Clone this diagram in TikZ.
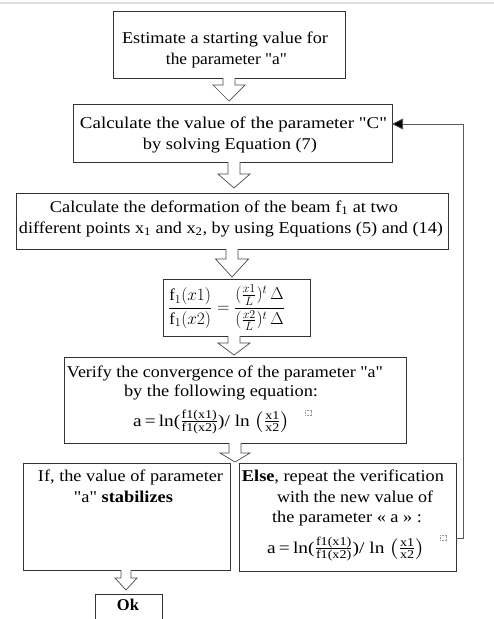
\documentclass[tikz,border=0pt]{standalone}
\usepackage{fontspec}
\setmainfont[Ligatures=TeXOff]{Liberation Serif}
\usepackage{amsmath}
\usepackage{graphicx}
\usetikzlibrary{calc,arrows.meta}
\tikzset{
  box/.style={draw=black!80, line width=0.8pt, fill=white, inner sep=0pt, outer sep=0pt},
  txt/.style={anchor=base, inner sep=0pt, font=\fontsize{16.5}{21.5}\selectfont},
  barrowstyle/.style={draw=black!70, line width=0.7pt, fill=white, line join=miter},
  fb/.style={draw=black!65, line width=0.8pt, -{Triangle[length=11pt,width=11pt,fill=black]}},
  placeholder/.style={draw=black!40, densely dotted, line width=0.5pt, minimum width=6pt, minimum height=5pt, inner sep=0pt}
}
\newcommand\fw[2]{\resizebox{#1pt}{\height}{#2}}
\newcommand\sm[1]{\text{\fontsize{12}{12}\selectfont #1}}
\newcommand\blockarrow[6]{% #1 start anchor, #2 tip coord, #3 shaft half, #4 head half, #5 head length, #6 name
  \coordinate (#6s) at (#2 |- #1);
  \draw[barrowstyle] ($(#6s)+(-#3,0)$) -- ($(#2)+(-#3,-#5)$) -- ($(#2)+(-#4,-#5)$) -- (#2)
    -- ($(#2)+(#4,-#5)$) -- ($(#2)+(#3,-#5)$) -- ($(#6s)+(#3,0)$);
}
\newcommand\fracform{a\,=\,ln($\frac{\sm{f1(x1)}}{\sm{f1(x2)}}$)/ ln $\left(\frac{\sm{x1}}{\sm{x2}}\right)$}
\begin{document}
\begin{tikzpicture}[x=1pt,y=-1pt]
\useasboundingbox (0,0) rectangle (494,619);
\fill[white] (0,0) rectangle (494,619);
\draw[black!12, line width=1.2pt] (0,3) -- (494,3);

% boxes
\node[box, minimum width=232pt, minimum height=67pt] (b1) at (229,44.5) {};
\node[box, minimum width=319pt, minimum height=58pt] (b2) at (232.5,133) {};
\node[box, minimum width=432pt, minimum height=56pt] (b3) at (232,221) {};
\node[box, minimum width=147pt, minimum height=57pt] (b4) at (236.5,307.5) {};
\node[box, minimum width=342pt, minimum height=86pt] (b5) at (235,400) {};
\node[box, minimum width=207pt, minimum height=107pt] (b6) at (126.5,516.5) {};
\node[box, minimum width=217pt, minimum height=108pt] (b7) at (347.5,517) {};
\node[box, minimum width=67pt, minimum height=36pt] (b8) at (128.5,612) {};

% texts
\node[txt] (t1a) at (225,43) {\fw{206}{Estimate a starting value for}};
\node[txt] (t1b) at (226.5,64) {\fw{121}{the parameter "a"}};
\node[txt] (t2a) at (233.5,128) {\fw{307}{Calculate the value of the parameter "C"}};
\node[txt] (t2b) at (230,149) {\fw{174}{by solving Equation (7)}};
\node[txt] (t3a) at (224,212) {\fw{348}{Calculate the deformation of the beam f\textsubscript{1} at two}};
\node[txt] (t3b) at (231,233) {\fw{424}{different points x\textsubscript{1} and x\textsubscript{2}, by using Equations (5) and (14)}};
\node[anchor=center, inner sep=0pt, font=\fontsize{16.5}{21.5}\selectfont] (t4) at (226.5,308)
  {$\dfrac{\mathrm{f}_1(x1)}{\mathrm{f}_1(x2)}=\dfrac{(\frac{x1}{L})^t\,\Delta}{(\frac{x2}{L})^t\,\Delta}$};
\node[txt] (t5a) at (225,377) {\fw{316}{Verify the convergence of the parameter "a"}};
\node[txt] (t5b) at (221,396) {\fw{194}{by the following equation:}};
\node[txt] (t5c) at (211.5,426) {\fw{157}{\fracform}};
\node[placeholder] (ph1) at (308,413) {};
\node[txt] (t6a) at (130.5,481) {\fw{185}{If, the value of parameter}};
\node[txt] (t6b) at (123.5,502) {\fw{99}{"a" \textbf{stabilizes}}};
\node[txt] (t7a) at (343,481) {\fw{202}{\textbf{Else}, repeat the verification}};
\node[txt] (t7b) at (355,502) {\fw{156}{with the new value of}};
\node[txt] (t7c) at (347,522) {\fw{150}{the parameter « a » :}};
\node[txt] (t7d) at (346,553) {\fw{158}{\fracform}};
\node[placeholder] (ph2) at (443,538) {};
\node[txt] (t8) at (128,610) {\textbf{Ok}};

% block arrows
\coordinate (a1t) at (229,101);
\coordinate (a2t) at (234,188);
\coordinate (a3t) at (232,277);
\coordinate (a4t) at (234,355);
\coordinate (a5t) at (235,462);
\coordinate (a6t) at (126,590);
\blockarrow{b1.south}{a1t}{6}{16}{16}{a1}
\blockarrow{b2.south}{a2t}{6}{16}{14}{a2}
\blockarrow{b3.south}{a3t}{6}{16.5}{18}{a3}
\blockarrow{b4.south}{a4t}{6}{16}{12}{a4}
\blockarrow{b5.south}{a5t}{6}{15}{9}{a5}
\blockarrow{b6.south}{a6t}{5}{11}{12}{a6}

% feedback connector
\coordinate (fbtop) at (463,124);
\draw[fb] (b7.east |- ph2) -| (fbtop) -- (b2.east |- fbtop);
\end{tikzpicture}
\end{document}
